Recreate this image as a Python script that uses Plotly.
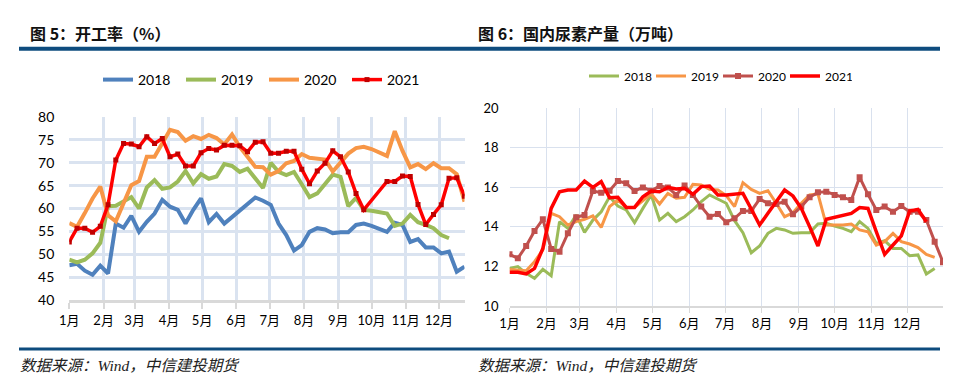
import pandas as pd
import plotly.graph_objects as go

# ---------------- data ----------------
years = ["2018", "2019", "2020", "2021"]

# 图5 开工率 (%), weekly
rate_2018 = [47.6, 47.9, 46.4, 45.5, 47.5, 45.8, 56.7, 55.8, 58.4, 54.9, 57.1, 58.9, 61.9, 60.4, 59.7, 56.7,
             59.7, 62.2, 57.0, 58.8, 56.7, 58.1, 59.7, 61.1, 62.4, 61.7, 60.8, 56.7, 54.2, 50.8, 52.0, 54.9,
             55.7, 55.4, 54.6, 54.8, 54.8, 56.4, 56.7, 56.2, 55.5, 54.9, 56.9, 56.4, 52.7, 53.3, 51.5, 51.5,
             50.2, 50.6, 46.2, 47.3]
rate_2019 = [48.8, 48.2, 48.8, 50.2, 52.5, 60.5, 60.6, 61.5, 62.5, 60.0, 64.6, 66.2, 64.3, 64.6, 65.9, 68.2,
             65.5, 67.5, 66.5, 67.0, 69.7, 69.3, 68.0, 68.7, 66.6, 64.5, 70.0, 68.0, 67.3, 68.0, 65.3, 62.5,
             63.3, 65.4, 67.4, 66.9, 60.5, 62.3, 59.7, 59.5, 59.3, 58.9, 56.2, 56.7, 58.6, 57.0, 56.4, 55.7,
             54.2, 53.5, None, None]
rate_2020 = [56.8, 56.0, 59.0, 62.2, 64.8, 58.5, 57.2, 61.0, 65.1, 66.0, 71.3, 71.3, 74.4, 77.2, 76.7, 74.8,
             75.8, 75.2, 76.1, 75.4, 74.0, 76.2, 73.5, 71.2, 69.1, 69.0, 67.4, 68.2, 69.9, 70.4, 71.9, 71.1,
             71.0, 70.7, 68.1, 70.0, 72.0, 73.2, 73.5, 73.0, 72.3, 71.5, 76.9, 72.6, 69.0, 69.7, 68.6, 69.9,
             68.8, 68.8, 67.5, 61.5]
rate_2021 = [52.7, 55.7, 55.7, 54.8, 56.1, 60.8, 70.6, 74.2, 74.1, 73.5, 75.7, 74.2, 75.3, 71.3, 71.9, 69.3,
             69.3, 72.2, 73.1, 72.8, 73.8, 73.8, 73.7, 72.4, 74.5, 74.6, 72.1, 72.1, 72.5, 72.5, 68.6, 65.4,
             68.2, 69.9, 72.6, 71.3, 68.0, 63.3, 59.7, None, None, 65.9, 65.9, 67.1, 67.0, 60.9, 56.5, 58.7,
             60.8, 66.6, 66.7, 62.7]

# 图6 国内尿素产量 (万吨), weekly
out_2018 = [11.90, 11.99, 11.65, 11.40, 11.85, 11.53, 14.26, 13.92, 14.60, 13.72, 14.34, 14.76, 15.52, 15.05,
            14.85, 14.21, 14.93, 15.61, 14.34, 14.68, 14.26, 14.51, 14.85, 15.27, 15.61, 15.39, 15.19, 14.31,
            13.70, 12.69, 13.03, 13.67, 13.92, 13.84, 13.67, 13.70, 13.70, 14.14, 14.18, 14.04, 13.92, 13.75,
            14.26, 13.92, 13.16, 13.30, 12.91, 12.91, 12.54, 12.58, 11.62, 11.90, None]
out_2019 = [11.85, 11.82, 11.78, 12.24, 12.83, 14.68, 14.51, 14.09, 14.26, 14.38, 14.55, 13.97, 15.02, 15.35,
            14.98, 14.97, 15.30, 15.66, 15.15, 15.69, 15.44, 15.49, 16.14, 16.11, 15.89, 15.86, 15.57, 15.02,
            16.23, 15.89, 15.69, 15.82, 15.19, 14.51, 14.71, 15.19, 15.61, 15.66, 14.09, 14.09, 14.09, 14.14,
            13.84, 13.75, 13.08, 13.25, 13.67, 13.25, 13.13, 12.95, 12.61, 12.46, None]
out_2020 = [12.61, 12.41, 13.03, 13.79, 14.38, 12.88, 12.74, 13.67, 14.48, 14.60, 15.81, 15.72, 15.82, 16.31,
            16.20, 15.81, 15.99, 15.82, 16.06, 15.99, 15.61, 16.08, 15.61, 15.02, 14.51, 14.65, 14.23, 14.43,
            14.80, 14.80, 15.40, 15.19, 15.15, 15.27, 14.63, 15.02, 15.49, 15.74, 15.77, 15.61, 15.49, 15.35,
            16.50, 15.64, 14.85, 15.02, 14.76, 15.05, 14.76, 14.76, 14.34, 13.25, 12.21]
out_2021 = [11.70, 11.70, 11.62, 11.90, 12.91, 14.93, 15.77, 15.86, 15.86, 16.31, 15.99, 16.28, 15.47, 15.49,
            14.98, 14.98, 15.52, 15.81, 15.77, 15.99, 15.91, 15.94, 15.64, 16.03, 16.06, 15.61, 15.61, 15.66,
            15.69, 14.90, 14.09, 14.68, 15.27, 15.86, 15.56, 14.93, 14.01, 13.03, 14.38, 14.48, 14.56, 14.68,
            14.97, 14.93, 13.75, 12.61, 13.08, 13.54, 14.80, 14.88, 14.26, None, None]

weeks_left = pd.date_range("2021-01-01", periods=len(rate_2018), freq="7D")
weeks_right = pd.date_range("2021-01-01", periods=len(out_2018), freq="7D")

title_left = "图 5：开工率（%）"
title_right = "图 6：国内尿素产量（万吨）"
source_text = "数据来源：Wind，中信建投期货"

# ---------------- styling ----------------
W, H = 980, 390
OFF = 8  # page body margin offset
def px_x(p): return (p - OFF) / W
def px_y(p): return 1 - (p - OFF) / H

FONT = "Lato, 'Noto Sans CJK SC', sans-serif"
left_colors = {"2018": "#4F81BD", "2019": "#9BBB59", "2020": "#F79646", "2021": "#FF0000"}
right_colors = {"2018": "#9BBB59", "2019": "#F79646", "2020": "#C0504D", "2021": "#FF0000"}

fig = go.Figure()

left_series = dict(zip(years, [rate_2018, rate_2019, rate_2020, rate_2021]))
for y in years:
    kw = dict(mode="lines", line=dict(color=left_colors[y], width=4))
    if y == "2021":
        kw = dict(mode="lines+markers", line=dict(color="#FF0000", width=3.5),
                  marker=dict(symbol="square", size=5, color="#C00000"))
    fig.add_trace(go.Scatter(x=weeks_left, y=left_series[y], name=y, xaxis="x", yaxis="y",
                             connectgaps=True, legend="legend", **kw))

right_series = dict(zip(years, [out_2018, out_2019, out_2020, out_2021]))
for y in years:
    kw = dict(mode="lines", line=dict(color=right_colors[y], width=3))
    if y == "2020":
        kw = dict(mode="lines+markers", line=dict(color="#C0504D", width=3),
                  marker=dict(symbol="square", size=6, color="#C0504D"))
    if y == "2021":
        kw = dict(mode="lines", line=dict(color="#FF0000", width=3.5))
    fig.add_trace(go.Scatter(x=weeks_right, y=right_series[y], name=y, xaxis="x2", yaxis="y2",
                             connectgaps=True, legend="legend2", **kw))

grid_l = "#DAE3F0"
grid_r = "#D9E1EE"

fig.update_layout(
    width=W, height=H,
    margin=dict(l=0, r=0, t=0, b=0, autoexpand=False),
    paper_bgcolor="white", plot_bgcolor="white",
    font=dict(family=FONT, size=13, color="#000000"),
    xaxis=dict(domain=[px_x(69.3), px_x(464.5)], anchor="y", type="date",
               range=["2021-01-01", "2021-12-24"], tick0="2021-01-01", dtick="M1",
               tickformat="%-m月", tickangle=0, showgrid=True, gridcolor=grid_l, gridwidth=3,
               showline=True, linecolor="#D9D9D9", linewidth=3,
               ticks="outside", ticklen=6, tickwidth=2, tickcolor="#D9D9D9",
               tickfont=dict(size=13), zeroline=False),
    yaxis=dict(domain=[px_y(300), px_y(117)], anchor="x", range=[40, 80], dtick=5,
               showgrid=True, gridcolor=grid_l, gridwidth=3, zeroline=False,
               showline=False, ticks="", ticklabelstandoff=14, tickfont=dict(size=14)),
    xaxis2=dict(domain=[px_x(509.5), px_x(943)], anchor="y2", type="date",
                range=["2021-01-01", "2021-12-31"], tick0="2021-01-01", dtick="M1",
                tickformat="%-m月", tickangle=0, showgrid=True, gridcolor=grid_r, gridwidth=1,
                showline=True, linecolor="#D9D9D9", linewidth=1.5,
                ticks="outside", ticklen=5, tickwidth=1, tickcolor="#D9D9D9",
                tickfont=dict(size=13), zeroline=False),
    yaxis2=dict(domain=[px_y(306), px_y(108)], anchor="x2", range=[10, 20], dtick=2,
                showgrid=True, gridcolor=grid_r, gridwidth=1, zeroline=False,
                showline=False, ticks="", ticklabelstandoff=10, tickfont=dict(size=13)),
    legend=dict(orientation="h", x=px_x(98), y=px_y(80), xanchor="left", yanchor="middle",
                entrywidth=38, font=dict(size=14), bgcolor="rgba(0,0,0,0)", itemclick=False),
    legend2=dict(orientation="h", x=px_x(584), y=px_y(76), xanchor="left", yanchor="middle",
                 entrywidth=22, font=dict(size=12), bgcolor="rgba(0,0,0,0)", itemclick=False),
    showlegend=True,
)

# header / footer rules
fig.add_shape(type="line", xref="paper", yref="paper", x0=px_x(19), x1=px_x(940),
              y0=px_y(48.7), y1=px_y(48.7), line=dict(color="#0E4C7E", width=4))
fig.add_shape(type="line", xref="paper", yref="paper", x0=px_x(19), x1=px_x(940),
              y0=px_y(349), y1=px_y(349), line=dict(color="#0E4C7E", width=3))

TITLE_FONT = dict(family="'Noto Sans CJK SC', sans-serif", size=16, color="#111111", weight="bold")
fig.add_annotation(text=title_left, xref="paper", yref="paper", x=px_x(28), y=px_y(33),
                   xanchor="left", yanchor="middle", showarrow=False, font=TITLE_FONT)
fig.add_annotation(text=title_right, xref="paper", yref="paper", x=px_x(476), y=px_y(33),
                   xanchor="left", yanchor="middle", showarrow=False, font=TITLE_FONT)

SRC_FONT = dict(family="'Liberation Serif', 'Noto Sans CJK SC', serif", size=15.5, color="#222222")
for x0 in (18, 476):
    fig.add_annotation(text="<i>" + source_text + "</i>", xref="paper", yref="paper",
                       x=px_x(x0), y=px_y(365), xanchor="left", yanchor="middle",
                       showarrow=False, font=SRC_FONT)

fig.write_html("out.html")
